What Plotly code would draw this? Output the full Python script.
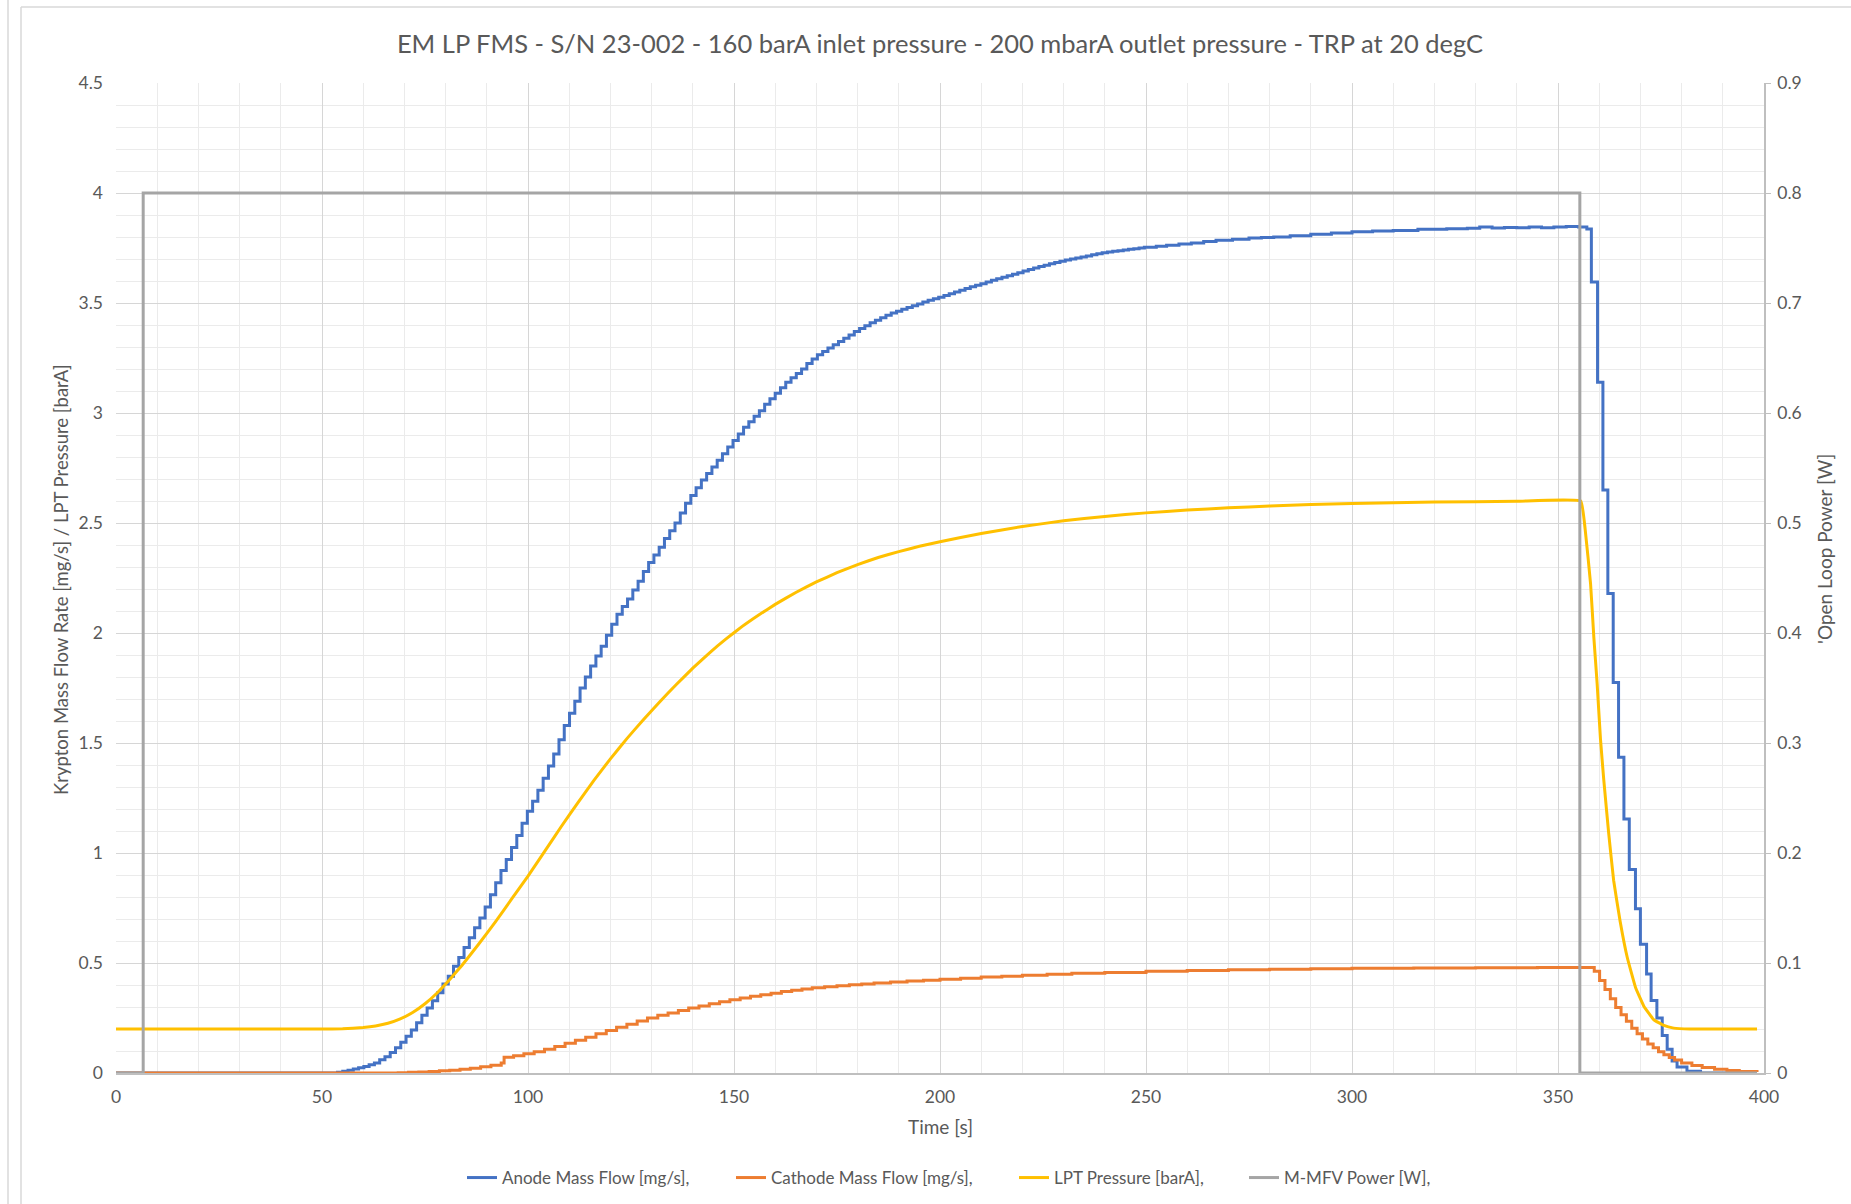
import plotly.graph_objects as go

# ---------------- data ----------------
SAMPLE_DT = 1.28          # s, update period of the anode flow reading
ANODE_RISE_T0 = 51.2      # s, first sample of the rising part
ANODE_RISE = [
    0, 0, 0.003, 0.008, 0.013, 0.018, 0.024, 0.03, 0.037, 0.045,
    0.06, 0.074, 0.093, 0.115, 0.14, 0.167, 0.195, 0.228, 0.262, 0.295,
    0.328, 0.365, 0.405, 0.44, 0.485, 0.525, 0.57, 0.615, 0.66, 0.705,
    0.755, 0.81, 0.865, 0.92, 0.97, 1.025, 1.08, 1.135, 1.19, 1.235,
    1.285, 1.34, 1.395, 1.45, 1.515, 1.58, 1.635, 1.69, 1.75, 1.80,
    1.85, 1.895, 1.94, 1.99, 2.04, 2.085, 2.12, 2.155, 2.195, 2.235,
    2.28, 2.32, 2.355, 2.39, 2.43, 2.465, 2.50, 2.545, 2.59, 2.625,
    2.66, 2.695, 2.725, 2.755, 2.785, 2.815, 2.845, 2.875, 2.905, 2.935,
    2.96, 2.985, 3.01, 3.04, 3.065, 3.09, 3.115, 3.14, 3.16, 3.18,
    3.20, 3.225, 3.245, 3.265, 3.28, 3.295, 3.31, 3.325, 3.34, 3.355,
    3.37, 3.384, 3.397, 3.41, 3.422, 3.433, 3.444, 3.454, 3.463, 3.472,
    3.48, 3.488, 3.496, 3.504, 3.512, 3.519, 3.526, 3.534, 3.542, 3.55,
    3.558, 3.566, 3.574, 3.581, 3.588, 3.596, 3.603, 3.61, 3.617, 3.624,
    3.631, 3.638, 3.645, 3.652, 3.659, 3.666, 3.672, 3.678, 3.684, 3.69,
    3.695, 3.70, 3.705, 3.709, 3.714, 3.719, 3.724, 3.728, 3.732, 3.735,
    3.738, 3.741, 3.744, 3.747, 3.75, 3.753,
]
ANODE_TAIL_T = [252.5, 255, 258, 261, 264, 267, 271, 275, 278, 281, 285, 290, 295,
                300, 305, 310, 316, 323, 328, 331, 334, 337, 340, 343, 346, 349,
                352, 355, 357,
                358.1, 359.6, 360.9, 362.1, 363.4, 364.7, 366.0, 367.3, 368.8,
                370.0, 371.5, 372.6, 374.0, 375.3, 376.5, 377.7, 378.9, 381.3,
                384.6, 398.3]
ANODE_TAIL = [3.758, 3.763, 3.768, 3.773, 3.779, 3.785, 3.79, 3.795, 3.798, 3.80,
              3.806, 3.812, 3.818, 3.824, 3.827, 3.830, 3.835, 3.838, 3.840, 3.846,
              3.841, 3.843, 3.842, 3.845, 3.842, 3.846, 3.848, 3.846, 3.836,
              3.595, 3.14, 2.65, 2.18, 1.775, 1.435, 1.154, 0.925, 0.747,
              0.585, 0.45, 0.33, 0.25, 0.17, 0.108, 0.054, 0.027, 0.008,
              0.0, 0.0]

CATHODE_T = [0, 66, 68.5, 71, 73.5, 76, 78.5, 81, 83.5, 86, 88.5, 91, 93.5, 94.2,
             96.5, 99, 101.5, 104, 106.5, 109, 111.5, 114, 116.5, 119, 121.5, 124,
             126.5, 129, 131.5, 134, 136.5, 139, 141.5, 144, 146.5, 149, 151.5,
             154, 156.5, 159, 161.5, 164, 166.5, 169, 172, 175, 178, 181, 184,
             188, 192, 196, 200, 205, 210, 215, 220, 226, 232, 240, 250, 260,
             270, 280, 290, 300, 315, 330, 345, 357.5, 358.8, 360.1, 361.4,
             362.7, 364.0, 365.3, 366.6, 367.9, 369.2, 370.5, 371.8, 373.1,
             374.4, 375.7, 377, 378.3, 380, 382.5, 385, 388, 391, 394, 398.3]
CATHODE = [0, 0, 0.001, 0.003, 0.005, 0.007, 0.01, 0.013, 0.017, 0.022, 0.028,
           0.035, 0.045, 0.072, 0.078, 0.087, 0.097, 0.108, 0.121, 0.135, 0.149,
           0.163, 0.178, 0.193, 0.208, 0.222, 0.236, 0.25, 0.262, 0.273, 0.284,
           0.295, 0.305, 0.315, 0.324, 0.333, 0.341, 0.349, 0.356, 0.363, 0.37,
           0.376, 0.382, 0.387, 0.392, 0.397, 0.401, 0.405, 0.409, 0.414, 0.418,
           0.422, 0.426, 0.431, 0.436, 0.44, 0.444, 0.449, 0.453, 0.457, 0.462,
           0.466, 0.469, 0.472, 0.474, 0.476, 0.477, 0.478, 0.479, 0.479, 0.462,
           0.42, 0.38, 0.337, 0.298, 0.265, 0.235, 0.203, 0.178, 0.155, 0.132,
           0.115, 0.097, 0.083, 0.07, 0.059, 0.046, 0.034, 0.025, 0.017, 0.011,
           0.007, 0.004]

LPT_T = [0, 50, 55, 60, 63, 66, 69, 72, 75, 78, 81, 84, 88, 92, 96, 100, 104,
         108, 112, 116, 120, 124, 128, 132, 136, 140, 144, 148, 152, 156, 160,
         165, 170, 175, 180, 185, 190, 195, 200, 210, 220, 230, 240, 250, 260,
         270, 280, 290, 300, 320, 340, 355.5, 356.6, 357.9, 358.7, 359.5,
         360.3, 361.1, 362.3, 363.5, 365.1, 366.8, 368.8, 370.8, 373.2, 375.7,
         378.1, 382, 398.3]
LPT = [0.2, 0.2, 0.201, 0.207, 0.214, 0.226, 0.246, 0.275, 0.315, 0.365, 0.425,
       0.49, 0.585, 0.685, 0.79, 0.895, 1.006, 1.118, 1.226, 1.33, 1.428, 1.52,
       1.606, 1.688, 1.766, 1.84, 1.909, 1.972, 2.03, 2.082, 2.13, 2.184, 2.232,
       2.274, 2.311, 2.343, 2.37, 2.394, 2.415, 2.452, 2.484, 2.51, 2.53, 2.546,
       2.559, 2.569, 2.577, 2.584, 2.589, 2.595, 2.599, 2.60, 2.47, 2.225, 1.98,
       1.77, 1.52, 1.335, 1.09, 0.876, 0.688, 0.526, 0.39, 0.305, 0.243, 0.216,
       0.204, 0.2, 0.2]

POWER_T = [0, 6.6, 355.3, 398.3]
POWER = [0, 0.8, 0, 0]

TITLE = "EM LP FMS - S/N 23-002 - 160 barA inlet pressure - 200 mbarA outlet pressure - TRP at 20 degC"
X_TITLE = "Time [s]"
Y_TITLE = "Krypton Mass Flow Rate [mg/s] / LPT Pressure [barA]"
Y2_TITLE_VISIBLE = "'Open Loop Power [W]"
NAMES = ["Anode Mass Flow [mg/s],", "Cathode Mass Flow [mg/s],",
         "LPT Pressure [barA],", "M-MFV Power [W],"]
COLORS = ["#4472C4", "#ED7D31", "#FFC000", "#A5A5A5"]

# ---------------- figure ----------------
anode_t = [0.0] + [round(ANODE_RISE_T0 + k * SAMPLE_DT, 2) for k in range(len(ANODE_RISE))] + ANODE_TAIL_T
anode_v = [0.0] + ANODE_RISE + ANODE_TAIL

FONT = "Lato"
TXT = "#595959"
W, H = 1851, 1204
ML, MR, MT, MB = 116, 87, 83, 131
PW, PH = W - ML - MR, H - MT - MB

def px(x):
    return (x - ML) / PW

def py(y):
    return (H - MB - y) / PH

fig = go.Figure()
fig.add_trace(go.Scatter(x=anode_t, y=anode_v, name=NAMES[0], mode="lines", legend="legend",
                         line=dict(color=COLORS[0], width=3, shape="hv")))
fig.add_trace(go.Scatter(x=CATHODE_T, y=CATHODE, name=NAMES[1], mode="lines", legend="legend2",
                         line=dict(color=COLORS[1], width=3, shape="hv")))
fig.add_trace(go.Scatter(x=LPT_T, y=LPT, name=NAMES[2], mode="lines", legend="legend3",
                         line=dict(color=COLORS[2], width=3, shape="spline", smoothing=0.3)))
fig.add_trace(go.Scatter(x=POWER_T, y=POWER, name=NAMES[3], mode="lines", yaxis="y2",
                         legend="legend4",
                         line=dict(color=COLORS[3], width=3, shape="hv")))

tickfont = dict(family=FONT, size=17.5, color=TXT)
legfont = dict(family=FONT, size=17, color=TXT)
# text start x (px) of each legend entry in the reference
LEG_TEXT_X = [502, 771, 1054, 1284]
legends = {}
for i, key in enumerate(["legend", "legend2", "legend3", "legend4"]):
    legends[key] = dict(orientation="h", x=px(LEG_TEXT_X[i] - 40), xanchor="left",
                        y=py(1178), yanchor="middle", font=legfont,
                        bgcolor="rgba(0,0,0,0)", borderwidth=0, itemwidth=30)

fig.update_layout(
    width=W, height=H,
    margin=dict(l=ML, r=MR, t=MT, b=MB, autoexpand=False),
    paper_bgcolor="white", plot_bgcolor="white",
    font=dict(family=FONT, color=TXT),
    title=dict(text=TITLE, x=0.5, xref="paper", xanchor="center",
               y=1 - 44 / H, yref="container", yanchor="middle",
               font=dict(family=FONT, size=25.5, color=TXT)),
    xaxis=dict(range=[0, 400], dtick=50, tick0=0, showgrid=True,
               gridcolor="#d6d6d6", gridwidth=1.3,
               minor=dict(dtick=10, showgrid=True, gridcolor="#ebebeb", gridwidth=1),
               showline=True, linecolor="#bfbfbf", linewidth=1.5,
               zeroline=False, ticks="", tickfont=tickfont, ticklabelstandoff=7,
               fixedrange=True),
    yaxis=dict(range=[0, 4.5], dtick=0.5, tick0=0, showgrid=True,
               gridcolor="#d6d6d6", gridwidth=1.3,
               minor=dict(dtick=0.1, showgrid=True, gridcolor="#ebebeb", gridwidth=1),
               showline=False, zeroline=False, ticks="", tickfont=tickfont,
               ticklabelstandoff=12),
    yaxis2=dict(range=[0, 0.9], dtick=0.1, tick0=0, overlaying="y", side="right",
                showgrid=False, zeroline=False, showline=True, linecolor="#bfbfbf",
                linewidth=1.5, ticks="outside", ticklen=5, tickcolor="#bfbfbf",
                tickfont=tickfont, ticklabelstandoff=3),
    showlegend=True,
    **legends,
)

fig.add_annotation(text=X_TITLE, xref="paper", yref="paper", x=0.5, y=py(1126),
                   xanchor="center", yanchor="middle", showarrow=False,
                   font=dict(family=FONT, size=19, color=TXT))
fig.add_annotation(text=Y_TITLE, xref="paper", yref="paper", x=px(61), y=py(580),
                   xanchor="center", yanchor="middle", showarrow=False, textangle=-90,
                   font=dict(family=FONT, size=18.5, color=TXT))
fig.add_annotation(text=Y2_TITLE_VISIBLE, xref="paper", yref="paper", x=px(1824), y=py(549),
                   xanchor="center", yanchor="middle", showarrow=False, textangle=-90,
                   font=dict(family=FONT, size=19, color=TXT))

# chart frame lines (spreadsheet chart border)
frame = "#d9d9d9"
fig.add_shape(type="line", xref="paper", yref="paper", x0=px(8), x1=px(8),
              y0=py(0), y1=py(1204), line=dict(color=frame, width=1.5))
fig.add_shape(type="line", xref="paper", yref="paper", x0=px(21), x1=px(21),
              y0=py(7), y1=py(1204), line=dict(color=frame, width=1.5))
fig.add_shape(type="line", xref="paper", yref="paper", x0=px(21), x1=px(1851),
              y0=py(7), y1=py(7), line=dict(color=frame, width=1.5))

fig.write_html("out.html", config={"displayModeBar": False},
               post_script="document.body.style.margin='0px';")
